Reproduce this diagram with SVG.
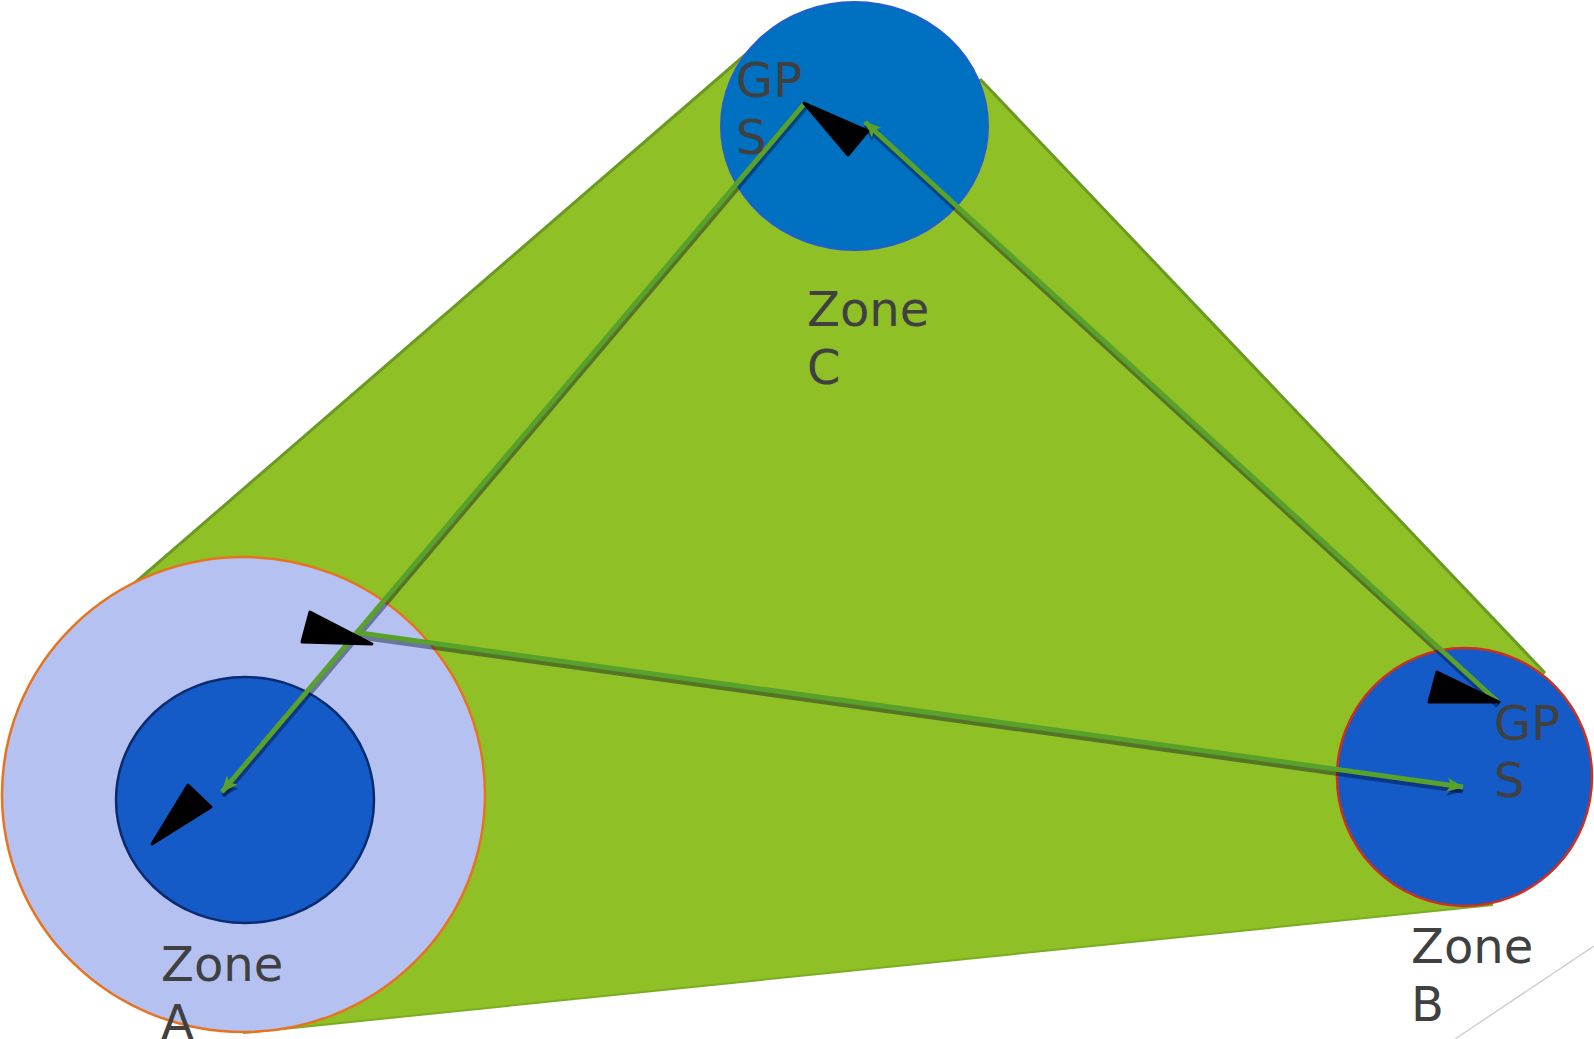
<svg xmlns="http://www.w3.org/2000/svg" width="1594" height="1039" viewBox="0 0 1594 1039">
  <style>
    .lbl { font-family: "DejaVu Sans", "Liberation Sans", sans-serif; font-size: 48px; fill: #404040; }
    .conn { fill: none; stroke: #58A12A; stroke-width: 5; }
    .shadow { fill: none; stroke: #000028; stroke-opacity: 0.4; stroke-width: 5; }
    .head { fill: #000000; stroke: #000000; stroke-width: 3; stroke-linejoin: round; }
  </style>
  <defs>
    <marker id="arrG" markerUnits="userSpaceOnUse" markerWidth="20" markerHeight="14" refX="16" refY="7" orient="auto">
      <path d="M0,0 L17,7 L0,14 L4,7 z" fill="#58A12A"/>
    </marker>
    <marker id="arrS" markerUnits="userSpaceOnUse" markerWidth="20" markerHeight="14" refX="16" refY="7" orient="auto">
      <path d="M0,0 L17,7 L0,14 L4,7 z" fill="#000028" fill-opacity="0.4"/>
    </marker>
  </defs>
  <rect width="1594" height="1039" fill="#ffffff"/>

  <g id="area">
    <polygon points="100,613 760,42 980,79 1545,673 1500,760 1493,905 243,1033" fill="#8FC026" stroke="none"/>
    <polyline points="100,613 760,42" fill="none" stroke="#6A9A22" stroke-width="3"/>
    <polyline points="980,79 1545,673" fill="none" stroke="#6A9A22" stroke-width="3"/>
    <polyline points="243,1033 1493,905" fill="none" stroke="#7AAE22" stroke-width="2"/>
  </g>

  <line x1="1594" y1="946" x2="1455" y2="1039" stroke="#D0D0D0" stroke-width="1.5"/>

  <g id="zoneA">
    <ellipse cx="243.5" cy="794.5" rx="241.5" ry="237.5" fill="#B5C1F0" stroke="#E8731F" stroke-width="2.5"/>
    <ellipse cx="245" cy="800" rx="129" ry="123" fill="#145BC8" stroke="#0C2A6E" stroke-width="2.5"/>
  </g>
  <g id="zoneB">
    <ellipse cx="1464.5" cy="777" rx="127.5" ry="129" fill="#145BC8" stroke="#CC3020" stroke-width="2.5"/>
  </g>
  <g id="zoneC">
    <ellipse cx="854.5" cy="126" rx="133.5" ry="124" fill="#0070C0" stroke="#1F5FD0" stroke-width="2"/>
  </g>

  <g id="connectors">
    <path class="shadow" d="M806,107 L223,796" marker-end="url(#arrS)"/>
    <path class="shadow" d="M1498,706 L865,126" marker-end="url(#arrS)"/>
    <path class="shadow" d="M360,637 L1463,791" marker-end="url(#arrS)"/>
    <path class="conn" d="M360,633 L1463,787" marker-end="url(#arrG)"/>
    <path class="conn" d="M1498,702 L865,122" marker-end="url(#arrG)"/>
    <path class="conn" d="M805,103 L222,792" marker-end="url(#arrG)"/>
    <polygon class="head" points="804,103 868,131 848,155"/>
    <polygon class="head" points="310,612 302,642 372,644"/>
    <polygon class="head" points="1437,672 1429,702 1499,702"/>
    <polygon class="head" points="188,785 211,807 152,844"/>
  </g>

  <g id="labels">
    <text class="lbl" x="736" y="97"><tspan x="736" y="97">GP</tspan><tspan x="736" y="154">S</tspan></text>
    <text class="lbl" x="1494" y="740"><tspan x="1494" y="740">GP</tspan><tspan x="1494" y="797">S</tspan></text>
    <text class="lbl" x="807" y="326"><tspan x="807" y="326">Zone</tspan><tspan x="807" y="384">C</tspan></text>
    <text class="lbl" x="161" y="981"><tspan x="161" y="981">Zone</tspan><tspan x="161" y="1039">A</tspan></text>
    <text class="lbl" x="1411" y="963"><tspan x="1411" y="963">Zone</tspan><tspan x="1411" y="1021">B</tspan></text>
  </g>
</svg>
